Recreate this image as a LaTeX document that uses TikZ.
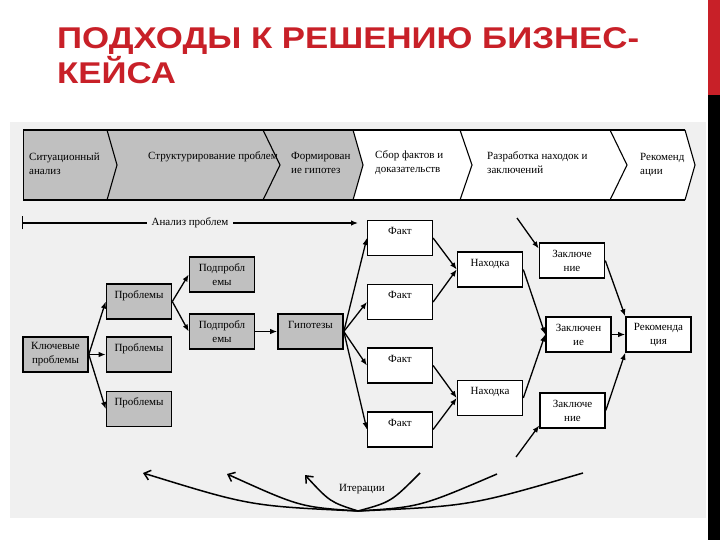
\documentclass[tikz,border=0pt]{standalone}
\usepackage{fontspec}
\setmainfont{Liberation Serif}
\newfontfamily\titlefont[FakeStretch=1.16]{Liberation Sans}
\usetikzlibrary{arrows.meta}
\definecolor{titlered}{RGB}{200,32,40}
\definecolor{panelgray}{RGB}{240,240,240}
\definecolor{boxgray}{RGB}{192,192,192}

\begin{document}
\begin{tikzpicture}[x=1pt, y=-1pt,
  box/.style={rectangle, draw, line width=1.6pt, minimum width=65pt, minimum height=35pt,
              inner sep=1pt, align=center, font=\fontsize{11}{14}\selectfont},
  greybox/.style={box, fill=boxgray},
  whitebox/.style={box, fill=white, line width=1.2pt},
  band/.style={anchor=west, align=left, inner sep=0pt, font=\fontsize{11}{14}\selectfont},
  arr/.style={-{Latex[length=7pt,width=5.5pt]}, line width=1.3pt},
  iter/.style={line width=1.5pt},
]
  % slide background
  \fill[white] (0,0) rectangle (720,540);
  \fill[panelgray] (10,122) rectangle (706,518);
  \fill[titlered] (708,0) rectangle (720,95);
  \fill[black] (708,95) rectangle (720,540);
  \useasboundingbox (0,0) rectangle (720,540);

  \node[anchor=north west, inner sep=0pt, align=left, text=titlered,
        font=\titlefont\bfseries\fontsize{30}{35}\selectfont] (title) at (57,27)
    {ПОДХОДЫ К РЕШЕНИЮ БИЗНЕС-\\КЕЙСА};

  % chevron band
  \fill[boxgray] (23,130) -- (353,130) -- (363,165) -- (353,200) -- (23,200) -- cycle;
  \fill[white] (353,130) -- (685,130) -- (695,165) -- (685,200) -- (353,200) -- (363,165) -- cycle;
  \draw[line width=1.4pt] (23,130) -- (685,130) (23,200) -- (685,200);
  \draw[line width=0.6pt] (23,130) -- (23,200);
  \foreach \t/\p in {107/117, 263/280, 353/363, 460/472, 610/627, 685/695}
    \draw[line width=1.1pt] (\t,130) -- (\p,165) -- (\t,200);

  \node[band] (sit) at (29,164) {Ситуационный\\анализ};
  \node[band] (struct) at (148,157) {Структурирование проблем};
  \node[band] (hypform) at (291,163) {Формирован\\ие гипотез};
  \node[band] (collect) at (375,163) {Сбор фактов и\\доказательств};
  \node[band] (develop) at (487,163) {Разработка находок и\\заключений};
  \node[band] (recs) at (640,165) {Рекоменд\\ации};

  % problem analysis span
  \coordinate (astart) at (22,223);
  \coordinate (aend) at (358,223);
  \draw[{Bar[width=13pt]}-{Latex[length=7pt,width=5.5pt]}, line width=1.2pt] (astart) --
    node[fill=panelgray, inner sep=5pt, font=\fontsize{11}{14}\selectfont] (analysis) {Анализ проблем} (aend);

  % boxes
  \node[greybox] (key) at (55.5,354.5) {Ключевые\\проблемы};
  \node[greybox] (prob1) at (139,301.5) {Проблемы\\~};
  \node[greybox] (prob2) at (139,354.5) {Проблемы\\~};
  \node[greybox] (prob3) at (139,409) {Проблемы\\~};
  \node[greybox] (sub1) at (222,274.5) {Подпробл\\емы};
  \node[greybox] (sub2) at (222,331.5) {Подпробл\\емы};
  \node[greybox] (hyp) at (310.5,331.5) {Гипотезы\\~};

  \node[whitebox] (fact1) at (400,238) {Факт\\~};
  \node[whitebox] (fact2) at (400,302) {Факт\\~};
  \node[whitebox] (fact3) at (400,365.5) {Факт\\~};
  \node[whitebox] (fact4) at (400,429.5) {Факт\\~};

  \node[whitebox, line width=1.6pt] (find1) at (490,269.5) {Находка\\~};
  \node[whitebox, line width=1.6pt] (find2) at (490,398) {Находка\\~};
  \node[whitebox, line width=1.6pt] (concl1) at (572,260.5) {Заключе\\ние};
  \node[whitebox, line width=1.6pt] (concl2) at (578.5,334.5) {Заключен\\ие};
  \node[whitebox, line width=1.6pt] (concl3) at (572.5,410.5) {Заключе\\ние};
  \node[whitebox, line width=1.6pt] (rec) at (658.5,334.5) {Рекоменда\\ция};

  % connectors
  \foreach \p in {prob1, prob2, prob3}
    \draw[arr] (key.east) -- (\p.west);
  \foreach \s in {sub1, sub2}
    \draw[arr] (prob1.east) -- (\s.west);
  \draw[arr] (sub2) -- (hyp);
  \foreach \f in {fact1, fact2, fact3, fact4}
    \draw[arr] (hyp.east) -- (\f.west);
  \draw[arr] (fact1.east) -- (find1.west);
  \draw[arr] (fact2.east) -- (find1.west);
  \draw[arr] (fact3.east) -- (find2.west);
  \draw[arr] (fact4.east) -- (find2.west);
  \draw[arr] (find1.east) -- (concl2.west);
  \draw[arr] (find2.east) -- (concl2.west);
  \draw[arr] (concl1.east) -- (rec.north west);
  \draw[arr] (concl2) -- (rec);
  \draw[arr] (concl3.east) -- (rec.south west);

  \coordinate (inconcl1) at (517,218);
  \coordinate (inconcl3) at (516,457);
  \draw[arr] (inconcl1) -- ([yshift=12pt]concl1.west);
  \draw[arr] (inconcl3) -- ([yshift=-15pt]concl3.west);

  % iterations
  \coordinate (iter) at (358,511);
  \coordinate (it1) at (143,473);
  \coordinate (it2) at (227,474);
  \coordinate (it3) at (305,475);
  \coordinate (it4) at (420,473);
  \coordinate (it5) at (497,474);
  \coordinate (it6) at (583,473);
  \draw[iter, -{Straight Barb[length=6pt,width=10pt]}] (iter) .. controls (250,506) .. (it1);
  \draw[iter, -{Straight Barb[length=6pt,width=10pt]}] (iter) .. controls (300,507) .. (it2);
  \draw[iter, -{Straight Barb[length=6pt,width=10pt]}] (iter) .. controls (330,502) .. (it3);
  \draw[iter] (iter) .. controls (391,502) .. (it4);
  \draw[iter] (iter) .. controls (420,507) .. (it5);
  \draw[iter] (iter) .. controls (470,506) .. (it6);
  \node[font=\fontsize{11}{14}\selectfont] (iterlabel) at (362,489) {Итерации};
\end{tikzpicture}
\end{document}
